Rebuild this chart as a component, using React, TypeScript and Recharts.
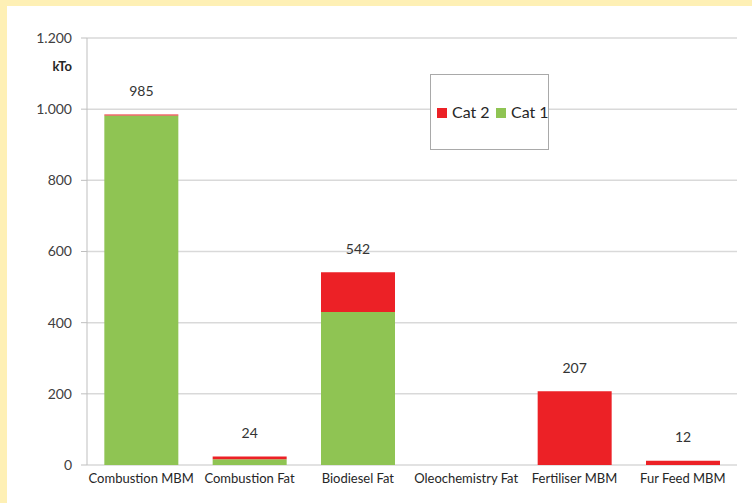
import React from "react";
import {
  BarChart,
  Bar,
  XAxis,
  YAxis,
  CartesianGrid,
  Legend,
  LabelList,
  Label,
} from "recharts";

// Destinations of processed animal by-products (kilotonnes)
const categories = [
  "Combustion MBM",
  "Combustion  Fat",
  "Biodiesel Fat",
  "Oleochemistry Fat",
  "Fertiliser MBM",
  "Fur Feed MBM",
];
const cat1Values = [982, 16, 430, 0, 0, 0];
const cat2Values = [3, 8, 112, 0, 207, 12];
const yTicks = [0, 200, 400, 600, 800, 1000, 1200];
const boundaryTicks = [0, 1, 2, 3, 4, 5, 6];

const GREEN = "#8FC453";
const RED = "#EC2126";
const FONT = "Lato, 'Open Sans', sans-serif";

const data = categories.map((name, i) => ({
  name,
  cat1: cat1Values[i],
  cat2: cat2Values[i],
}));

const totalOf = (d: { cat1: number; cat2: number }) => d.cat1 + d.cat2;

const formatThousands = (v: number) =>
  v >= 1000 ? `${Math.floor(v / 1000)}.${String(v % 1000).padStart(3, "0")}` : String(v);

const TotalLabel = (props: any) => {
  const { x, y, width, value } = props;
  if (!value) return null;
  return (
    <text
      x={x + width / 2}
      y={y - 22}
      textAnchor="middle"
      dominantBaseline="middle"
      fontFamily={FONT}
      fontSize={14}
      fill="#333333"
    >
      {value}
    </text>
  );
};

const UnitLabel = (props: any) => {
  const { viewBox } = props;
  return (
    <text
      x={viewBox.x + viewBox.width - 15}
      y={viewBox.y + 30}
      textAnchor="end"
      dominantBaseline="middle"
      fontFamily={FONT}
      fontSize={13}
      fontWeight={700}
      fill="#262626"
    >
      kTo
    </text>
  );
};

const LegendBox = () => (
  <div
    style={{
      width: 117,
      height: 74,
      border: "1px solid #a9a9a9",
      background: "#ffffff",
      position: "relative",
      fontFamily: FONT,
      fontSize: 16,
      color: "#262626",
      overflow: "visible",
      whiteSpace: "nowrap",
    }}
  >
    <span
      style={{ position: "absolute", left: 6, top: 33, width: 10, height: 10, background: RED }}
    />
    <span style={{ position: "absolute", left: 21, top: 27, lineHeight: "20px" }}>Cat 2</span>
    <span
      style={{ position: "absolute", left: 65, top: 33, width: 10, height: 10, background: GREEN }}
    />
    <span style={{ position: "absolute", left: 80, top: 27, lineHeight: "20px" }}>Cat 1</span>
  </div>
);

export default function App() {
  return (
    <div
      style={{
        position: "absolute",
        left: 0,
        top: 0,
        width: 752,
        height: 503,
        background: "#FEF0B5",
        overflow: "hidden",
      }}
    >
      <div
        style={{
          position: "absolute",
          left: 7,
          top: 6,
          width: 745,
          height: 497,
          background: "#ffffff",
        }}
      >
        <BarChart
          width={745}
          height={497}
          data={data}
          margin={{ top: 32, right: 15, left: 0, bottom: 0 }}
          barCategoryGap="16%"
        >
          <CartesianGrid vertical={false} stroke="#d9d9d9" strokeWidth={1.5} />
          <XAxis
            xAxisId="bounds"
            type="number"
            domain={[0, 6]}
            ticks={boundaryTicks}
            allowDataOverflow
            height={0}
            axisLine={{ stroke: "#bfbfbf" }}
            tickLine={{ stroke: "#bfbfbf" }}
            tickSize={6}
            tick={() => <g />}
          />
          <XAxis
            xAxisId="cat"
            dataKey="name"
            height={38}
            interval={0}
            axisLine={false}
            tickLine={false}
            tickSize={6}
            tickMargin={3}
            tick={{ fontFamily: FONT, fontSize: 13, fill: "#262626" }}
          />
          <YAxis
            width={80}
            domain={[0, 1200]}
            ticks={yTicks}
            interval={0}
            tickFormatter={formatThousands}
            axisLine={{ stroke: "#bfbfbf" }}
            tickLine={{ stroke: "#bfbfbf" }}
            tickSize={6}
            tickMargin={9}
            tick={{ fontFamily: FONT, fontSize: 14, fill: "#404040" }}
          >
            <Label content={<UnitLabel />} />
          </YAxis>
          <Legend
            layout="horizontal"
            verticalAlign="middle"
            align="center"
            content={() => <LegendBox />}
            wrapperStyle={{ position: "absolute", left: 423, top: 68, width: 119, height: 76 }}
          />
          <Bar
            xAxisId="cat"
            dataKey="cat1"
            name="Cat 1"
            stackId="a"
            fill={GREEN}
            isAnimationActive={false}
          />
          <Bar
            xAxisId="cat"
            dataKey="cat2"
            name="Cat 2"
            stackId="a"
            fill={RED}
            isAnimationActive={false}
          >
            <LabelList dataKey={totalOf} content={<TotalLabel />} />
          </Bar>
        </BarChart>
      </div>
    </div>
  );
}
